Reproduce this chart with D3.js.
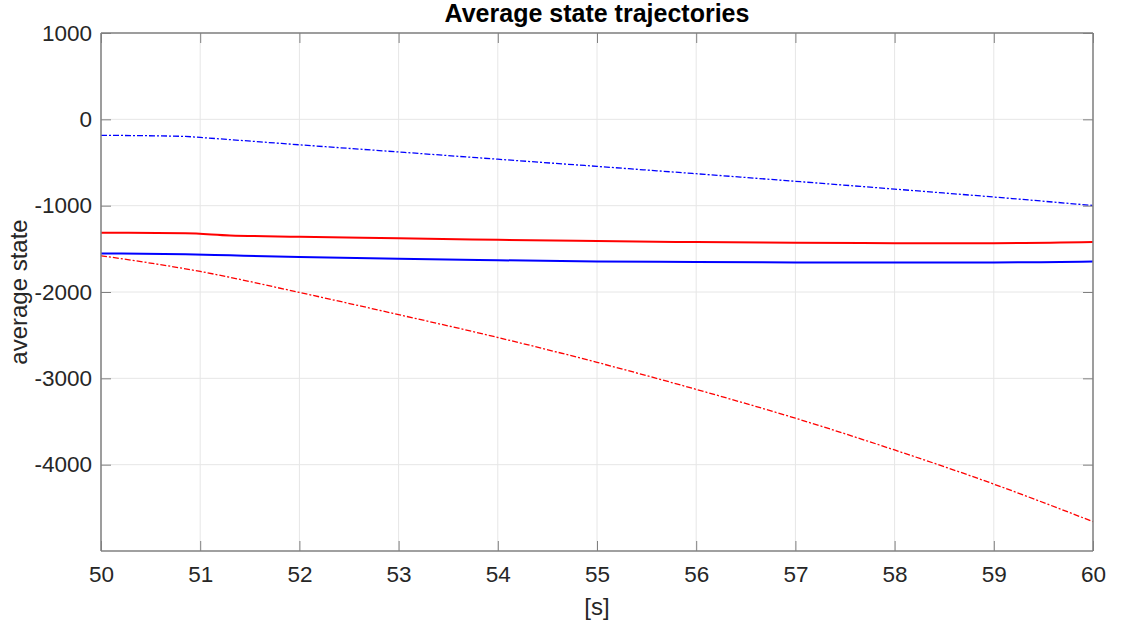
<!DOCTYPE html>
<html><head><meta charset="utf-8">
<script src="https://cdn.jsdelivr.net/npm/d3@7"></script>
<style>body{margin:0;background:#fff;}svg{display:block;font-family:"Liberation Sans",Arial,sans-serif;}</style>
</head><body><svg id="c" width="1121" height="625"></svg>
<script>
const xTicks=[50,51,52,53,54,55,56,57,58,59,60];
const yTicks=[1000,0,-1000,-2000,-3000,-4000];
const blueDashT=[50,50.85,51,52,53,54,55,56,57,58,59,60];
const blueDashV=[-185,-198,-210,-295,-378,-462,-545,-630,-718,-808,-900,-998];
const redSolidT=[50,50.85,51.3,52,53,54,55,56,57,58,59,60];
const redSolidV=[-1314,-1320,-1345,-1360,-1378,-1395,-1410,-1422,-1430,-1434,-1434,-1421];
const blueSolidT=[50,50.85,51.3,52,53,54,55,56,57,58,59,60];
const blueSolidV=[-1553,-1562,-1575,-1595,-1615,-1632,-1646,-1653,-1657,-1657,-1657,-1646];
const redDashT=[50,51,52,53,54,55,56,57,58,59,60];
const redDashV=[-1580,-1762,-2005,-2262,-2527,-2815,-3128,-3462,-3830,-4225,-4660];

const svg=d3.select("#c");
const L=101,R=1093,T=33,B=551;
const x=d3.scaleLinear().domain([50,60]).range([L,R]);
const y=d3.scaleLinear().domain([-5000,1000]).range([B,T]);
const axisCol="#808080", textCol="#262626", gridCol="#e6e6e6";

// grid
svg.append("g").selectAll("line").data(xTicks).join("line")
 .attr("x1",d=>x(d)).attr("x2",d=>x(d)).attr("y1",T).attr("y2",B)
 .attr("stroke",gridCol).attr("stroke-width",1);
svg.append("g").selectAll("line").data(yTicks).join("line")
 .attr("y1",d=>y(d)).attr("y2",d=>y(d)).attr("x1",L).attr("x2",R)
 .attr("stroke",gridCol).attr("stroke-width",1);

// lines
const line=(ts,vs)=>d3.line().curve(d3.curveMonotoneX).x((d,i)=>x(ts[i])).y(d=>y(d))(vs);
svg.append("path").attr("d",line(redSolidT,redSolidV)).attr("fill","none").attr("stroke","#ff0000").attr("stroke-width",2);
svg.append("path").attr("d",line(blueSolidT,blueSolidV)).attr("fill","none").attr("stroke","#0000ff").attr("stroke-width",2);
svg.append("path").attr("d",line(blueDashT,blueDashV)).attr("fill","none").attr("stroke","#0000ff").attr("stroke-width",1.3).attr("stroke-dasharray","6,2,2,2");
svg.append("path").attr("d",line(redDashT,redDashV)).attr("fill","none").attr("stroke","#ff0000").attr("stroke-width",1.3).attr("stroke-dasharray","6,2,2,2");

// axes with inward ticks on all sides
const tl=10;
const fmt=d=>String(d);
const gB=svg.append("g").attr("transform",`translate(0,${B})`).call(d3.axisBottom(x).tickValues(xTicks).tickSize(-tl).tickPadding(15).tickFormat(fmt));
const gT=svg.append("g").attr("transform",`translate(0,${T})`).call(d3.axisTop(x).tickValues(xTicks).tickSize(-tl).tickFormat(""));
const gL=svg.append("g").attr("transform",`translate(${L},0)`).call(d3.axisLeft(y).tickValues(yTicks).tickSize(-tl).tickPadding(9).tickFormat(fmt));
const gR=svg.append("g").attr("transform",`translate(${R},0)`).call(d3.axisRight(y).tickValues(yTicks).tickSize(-tl).tickFormat(""));
[gB,gT,gL,gR].forEach(g=>{
  g.select(".domain").attr("stroke",axisCol).attr("stroke-width",1.5);
  g.selectAll(".tick line").attr("stroke",axisCol).attr("stroke-width",1);
  g.selectAll("text").attr("fill",textCol).attr("font-size",22.5).attr("font-family","Liberation Sans, Arial, sans-serif");
});
gT.select(".domain").attr("d",`M${L},0H${R}`);
gR.select(".domain").attr("d",`M0,${T}V${B}`);
gB.select(".domain").attr("d",`M${L},0H${R}`);
gL.select(".domain").attr("d",`M0,${T}V${B}`);

// labels
svg.append("text").attr("x",(L+R)/2).attr("y",22).attr("text-anchor","middle")
 .attr("font-size",25).attr("font-weight","bold").attr("fill","#000").text("Average state trajectories");
svg.append("text").attr("x",(L+R)/2).attr("y",615).attr("text-anchor","middle")
 .attr("font-size",24).attr("fill",textCol).text("[s]");
svg.append("text").attr("transform",`translate(27,${(T+B)/2}) rotate(-90)`).attr("text-anchor","middle")
 .attr("font-size",24).attr("fill",textCol).text("average state");
</script></body></html>
